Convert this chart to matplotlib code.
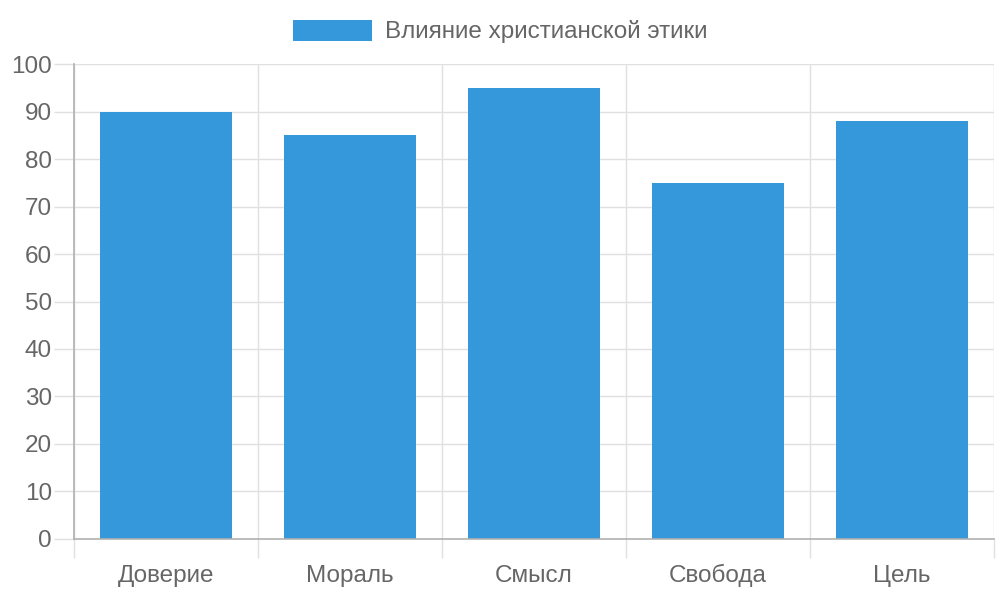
import numpy as np
import matplotlib.pyplot as plt
from matplotlib.patches import Patch

plt.rcParams['font.family'] = ['Liberation Sans', 'DejaVu Sans']

# Data
categories = ["Доверие", "Мораль", "Смысл", "Свобода", "Цель"]
values = [90, 85, 95, 75, 88]
series_name = "Влияние христианской этики"

bar_color = "#3498db"
text_color = "#666666"
grid_color = "#e0e0e0"
axis_color = "#b0b0b0"
fs = 17.5

fig = plt.figure(figsize=(10, 6), dpi=100)
ax = fig.add_axes([0.074, 0.1017, 0.92, 0.7916])

x = np.arange(len(categories))
ax.bar(x, values, width=0.72, color=bar_color, zorder=3)

ax.set_xlim(-0.5, len(categories) - 0.5)
ax.set_ylim(0, 100)
ax.set_yticks(np.arange(0, 101, 10))

# category labels at centers, grid lines at boundaries
ax.set_xticks(x)
ax.set_xticklabels(categories, va='baseline')
ax.set_xticks(np.arange(-0.5, len(categories), 1), minor=True)
ax.tick_params(axis='x', which='major', length=0, pad=31, labelsize=fs, labelcolor=text_color)
ax.tick_params(axis='x', which='minor', length=14, width=1, color=grid_color)
ax.tick_params(axis='y', which='major', length=14.4, width=1, color=grid_color, pad=1.5,
               labelsize=fs, labelcolor=text_color)

ax.grid(True, axis='y', which='major', color=grid_color, linewidth=1, zorder=0)
ax.grid(True, axis='x', which='minor', color=grid_color, linewidth=1, zorder=0)

for side in ['top', 'right']:
    ax.spines[side].set_visible(False)
for side in ['left', 'bottom']:
    ax.spines[side].set_color(axis_color)
    ax.spines[side].set_linewidth(1.2)
    ax.spines[side].set_zorder(4)

handle = Patch(facecolor=bar_color, edgecolor='none')
fig.legend([handle], [series_name], loc='center', bbox_to_anchor=(0.5, 0.9475),
           frameon=False, fontsize=fs, labelcolor=text_color,
           handlelength=3.25, handleheight=0.95, handletextpad=0.53)

fig.savefig("out.png", dpi=100)
